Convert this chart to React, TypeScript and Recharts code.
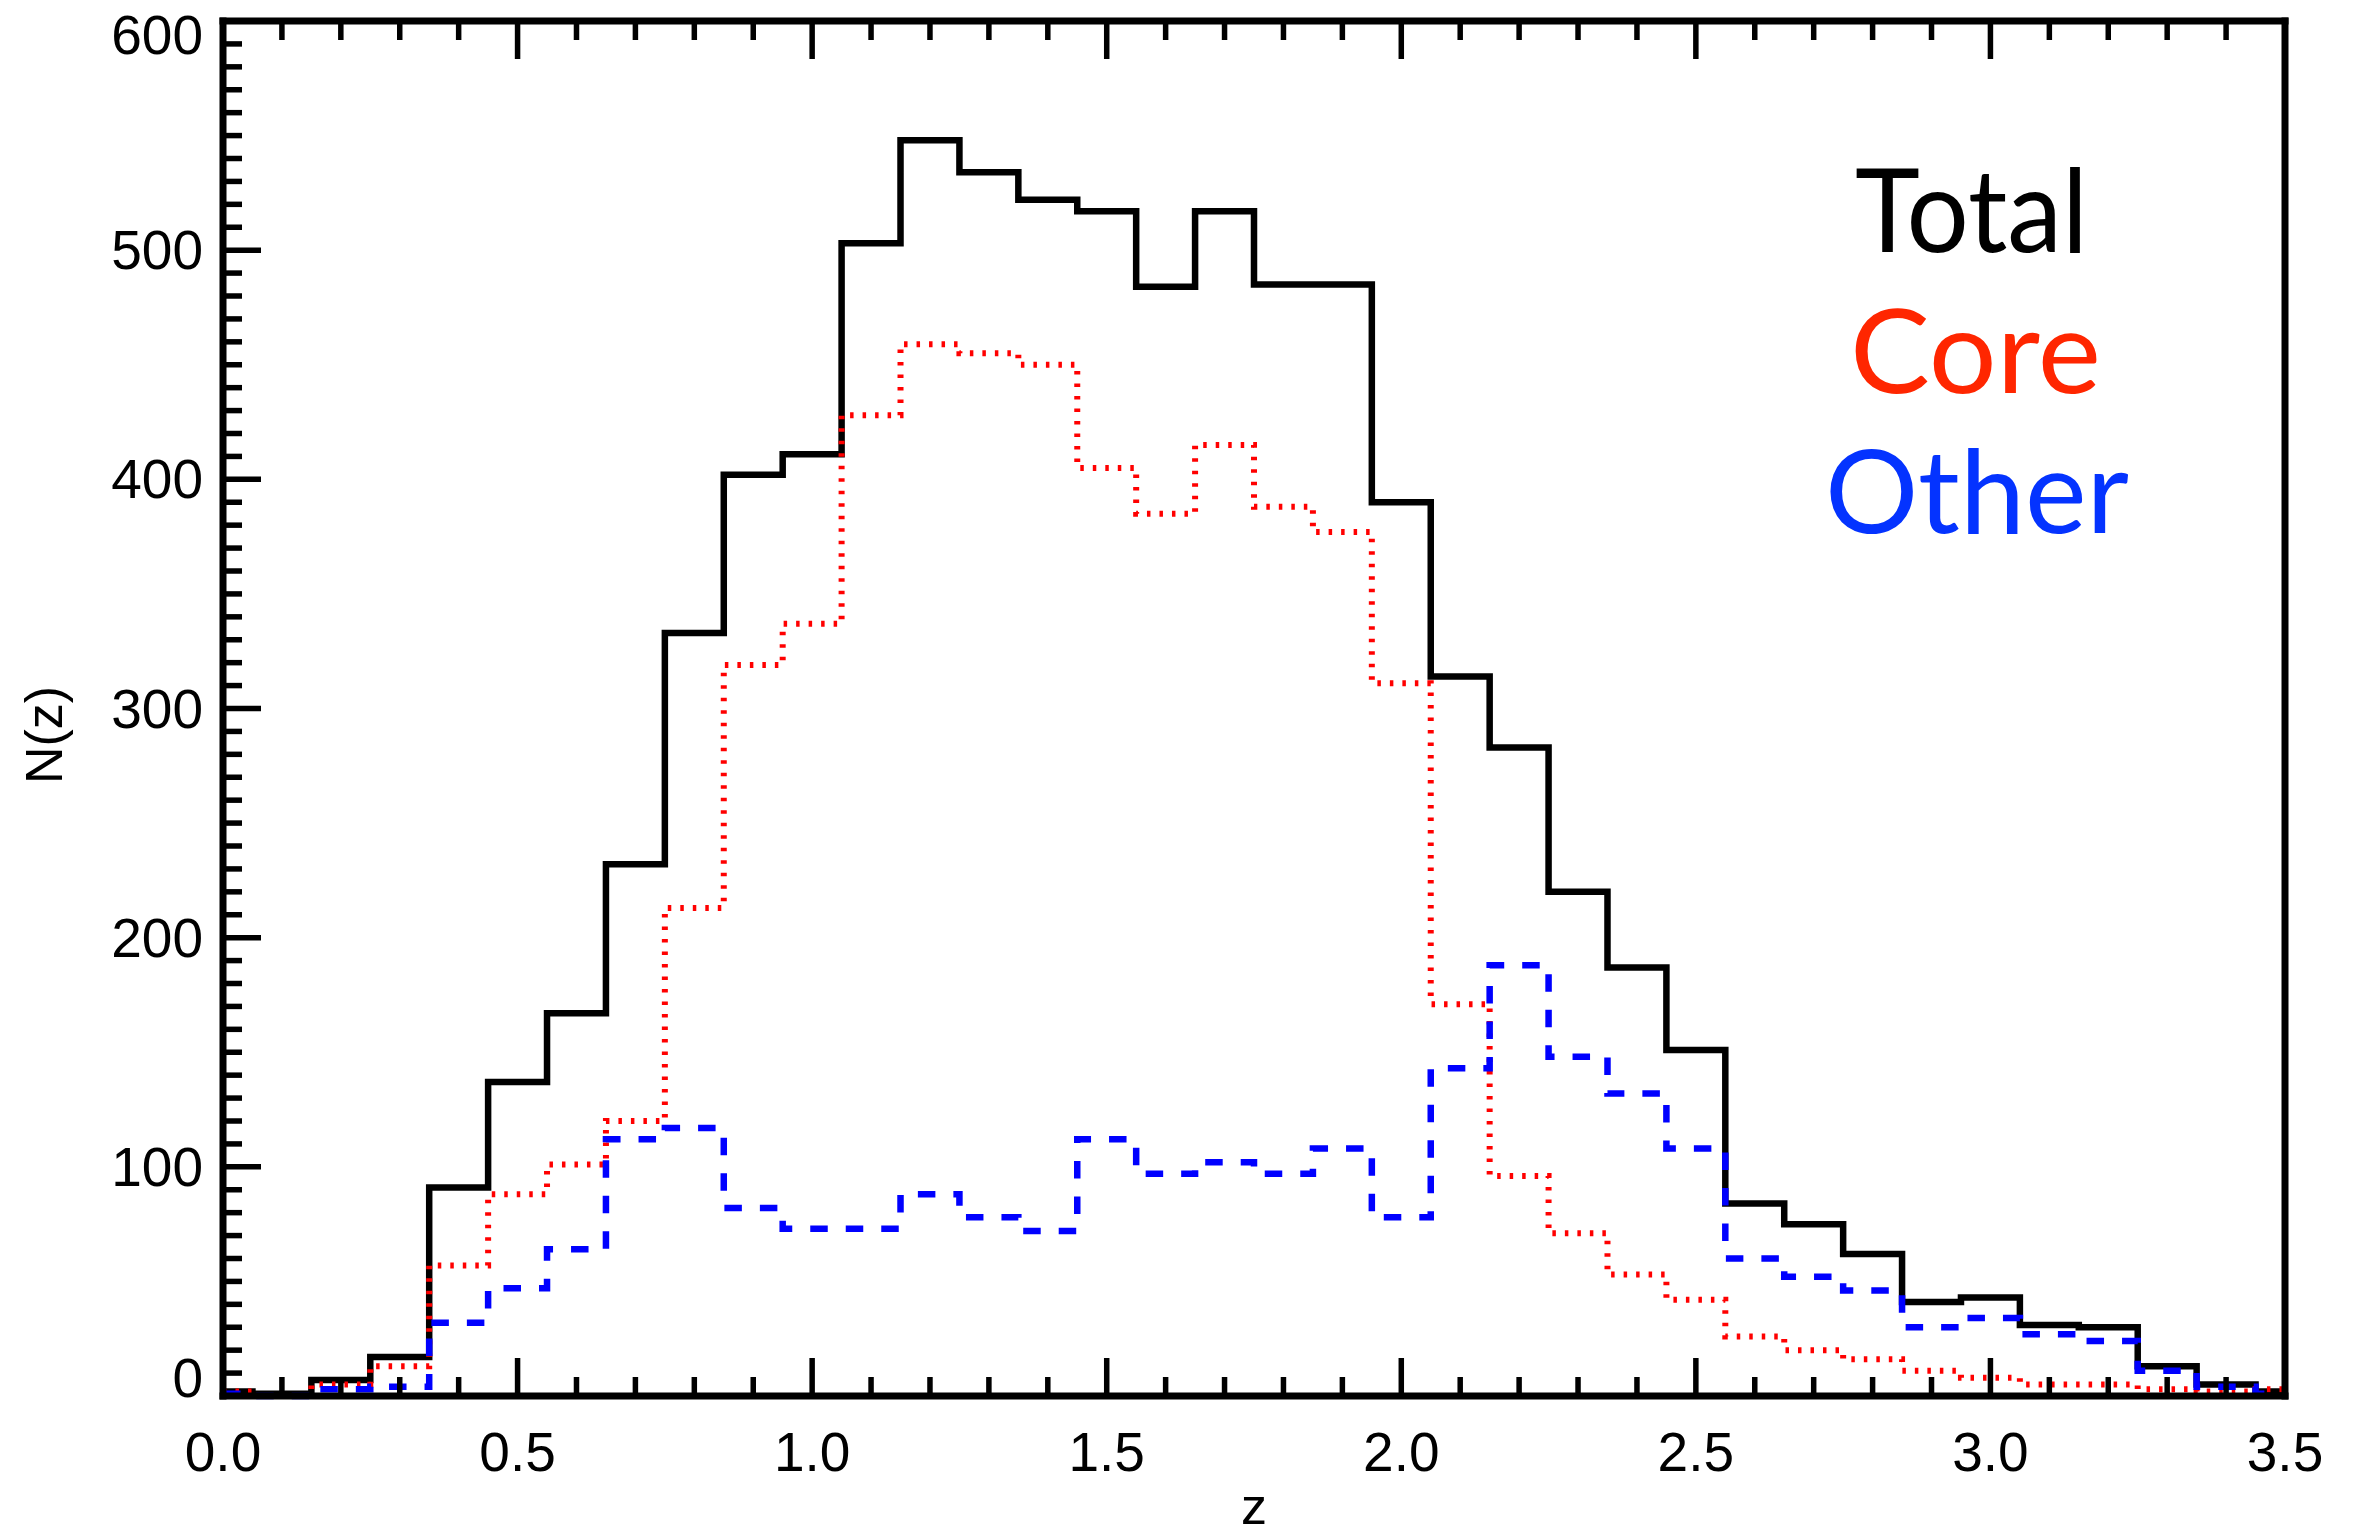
import { LineChart, Line, XAxis, YAxis } from 'recharts'

// bin centres of the redshift histogram (width 0.1)
const zBins = [
  0.0, 0.1, 0.2, 0.3, 0.4, 0.5, 0.6, 0.7, 0.8, 0.9,
  1.0, 1.1, 1.2, 1.3, 1.4, 1.5, 1.6, 1.7, 1.8, 1.9,
  2.0, 2.1, 2.2, 2.3, 2.4, 2.5, 2.6, 2.7, 2.8, 2.9,
  3.0, 3.1, 3.2, 3.3, 3.4, 3.5,
]

const totalCounts = [
  2, 1, 7, 17, 91, 137, 167, 232, 333, 402,
  411, 503, 548, 534, 522, 517, 484, 517, 485, 485,
  390, 314, 283, 220, 187, 151, 84, 75, 62, 41,
  43, 31, 30, 13, 5, 2,
]

const coreCounts = [
  2, 0, 5, 13, 57, 88, 101, 120, 213, 319,
  337, 428, 459, 455, 450, 405, 385, 415, 388, 377,
  311, 171, 96, 71, 53, 42, 26, 20, 16, 11,
  8, 5, 5, 3, 2, 3,
]

const otherCounts = [
  1, 0, 3, 4, 32, 47, 64, 112, 117, 82,
  73, 73, 88, 78, 72, 112, 97, 102, 97, 108,
  78, 143, 188, 148, 132, 108, 60, 52, 46, 30,
  34, 27, 24, 11, 4, 1,
]

const yTicks = Array.from({ length: 61 }, (_, i) => i * 10)
const legendLabels = ['Total', 'Core', 'Other']

const FONT = '"Liberation Sans", Arial, Helvetica, sans-serif'
const LEGEND_FONT = 'Lato, "Open Sans", sans-serif'

const rows = zBins.map((z, i) => ({
  z,
  total: totalCounts[i],
  core: coreCounts[i],
  other: otherCounts[i],
}))

const isMajorX = (v: number) => Math.abs(v * 2 - Math.round(v * 2)) < 1e-6
const isMajorY = (v: number) => v % 100 === 0

function makeXTick(side: 'bottom' | 'top') {
  return (props: any) => {
    const { x, y, payload } = props
    const major = isMajorX(payload.value)
    const len = major ? 38 : 19
    const dir = side === 'bottom' ? -1 : 1
    return (
      <g>
        <line x1={x} y1={y} x2={x} y2={y + dir * len} stroke="#000" strokeWidth={5.5} />
        {side === 'bottom' && major && (
          <text x={x} y={y + 75} textAnchor="middle" fontFamily={FONT} fontSize={55} fill="#000">
            {payload.value.toFixed(1)}
          </text>
        )}
      </g>
    )
  }
}

function makeYTick(side: 'left' | 'right') {
  return (props: any) => {
    const { x, y, payload } = props
    const major = isMajorY(payload.value)
    const len = major ? 38 : 19
    const dir = side === 'left' ? 1 : -1
    // end labels are nudged inside the frame, like the original
    const shift = payload.value === 0 ? -18 : payload.value === 600 ? 14 : 0
    return (
      <g>
        <line x1={x} y1={y} x2={x + dir * len} y2={y} stroke="#000" strokeWidth={5.5} />
        {side === 'left' && major && (
          <text x={x - 20} y={y + 19 + shift} textAnchor="end" fontFamily={FONT} fontSize={55} fill="#000">
            {payload.value}
          </text>
        )}
      </g>
    )
  }
}

const frame = { stroke: '#000', strokeWidth: 7, strokeLinecap: 'square' as const }

export default function App() {
  return (
    <div style={{ position: 'absolute', left: 0, top: 0, width: 2354, height: 1535, background: '#fff' }}>
      <LineChart
        width={2354}
        height={1535}
        data={rows}
        margin={{ top: 20, right: 68, bottom: 138, left: 222 }}
      >
        <XAxis
          xAxisId="bottom"
          dataKey="z"
          type="number"
          domain={[0, 3.5]}
          ticks={zBins}
          interval={0}
          height={1}
          tickSize={0}
          tickMargin={0}
          tickLine={false}
          axisLine={frame}
          tick={makeXTick('bottom')}
        />
        <XAxis
          xAxisId="top"
          orientation="top"
          dataKey="z"
          type="number"
          domain={[0, 3.5]}
          ticks={zBins}
          interval={0}
          height={1}
          tickSize={0}
          tickMargin={0}
          tickLine={false}
          axisLine={frame}
          tick={makeXTick('top')}
        />
        <YAxis
          yAxisId="left"
          type="number"
          domain={[0, 600]}
          ticks={yTicks}
          interval={0}
          width={1}
          tickSize={0}
          tickMargin={0}
          tickLine={false}
          axisLine={frame}
          tick={makeYTick('left')}
        />
        <YAxis
          yAxisId="right"
          orientation="right"
          type="number"
          domain={[0, 600]}
          ticks={yTicks}
          interval={0}
          width={1}
          tickSize={0}
          tickMargin={0}
          tickLine={false}
          axisLine={frame}
          tick={makeYTick('right')}
        />
        <Line
          xAxisId="bottom"
          yAxisId="left"
          type="step"
          dataKey="total"
          stroke="#000"
          strokeWidth={6.5}
          strokeLinejoin="miter"
          dot={false}
          activeDot={false}
          isAnimationActive={false}
        />
        <Line
          xAxisId="bottom"
          yAxisId="left"
          type="step"
          dataKey="core"
          stroke="#ff0000"
          strokeWidth={6}
          strokeDasharray="3.5 9"
          dot={false}
          activeDot={false}
          isAnimationActive={false}
        />
        <Line
          xAxisId="bottom"
          yAxisId="left"
          type="step"
          dataKey="other"
          stroke="#0000ff"
          strokeWidth={6.5}
          strokeDasharray="17.5 18"
          dot={false}
          activeDot={false}
          isAnimationActive={false}
        />
      </LineChart>

      <svg
        width={2354}
        height={1535}
        style={{ position: 'absolute', left: 0, top: 0, pointerEvents: 'none' }}
      >
        <text x={1254} y={1524} textAnchor="middle" fontFamily={FONT} fontSize={52} fill="#000">
          z
        </text>
        <text
          x={0}
          y={0}
          transform="translate(62 735) rotate(-90)"
          textAnchor="middle"
          fontFamily={FONT}
          fontSize={52}
          fill="#000"
        >
          N(z)
        </text>
        <text x={1855} y={252} fontFamily={LEGEND_FONT} fontSize={116} fill="#000"
          textLength={233} lengthAdjust="spacingAndGlyphs">
          {legendLabels[0]}
        </text>
        <text x={1850} y={393} fontFamily={LEGEND_FONT} fontSize={116} fill="#ff2600"
          textLength={251} lengthAdjust="spacingAndGlyphs">
          {legendLabels[1]}
        </text>
        <text x={1825} y={533} fontFamily={LEGEND_FONT} fontSize={116} fill="#0433ff"
          textLength={304} lengthAdjust="spacingAndGlyphs">
          {legendLabels[2]}
        </text>
      </svg>
    </div>
  )
}
